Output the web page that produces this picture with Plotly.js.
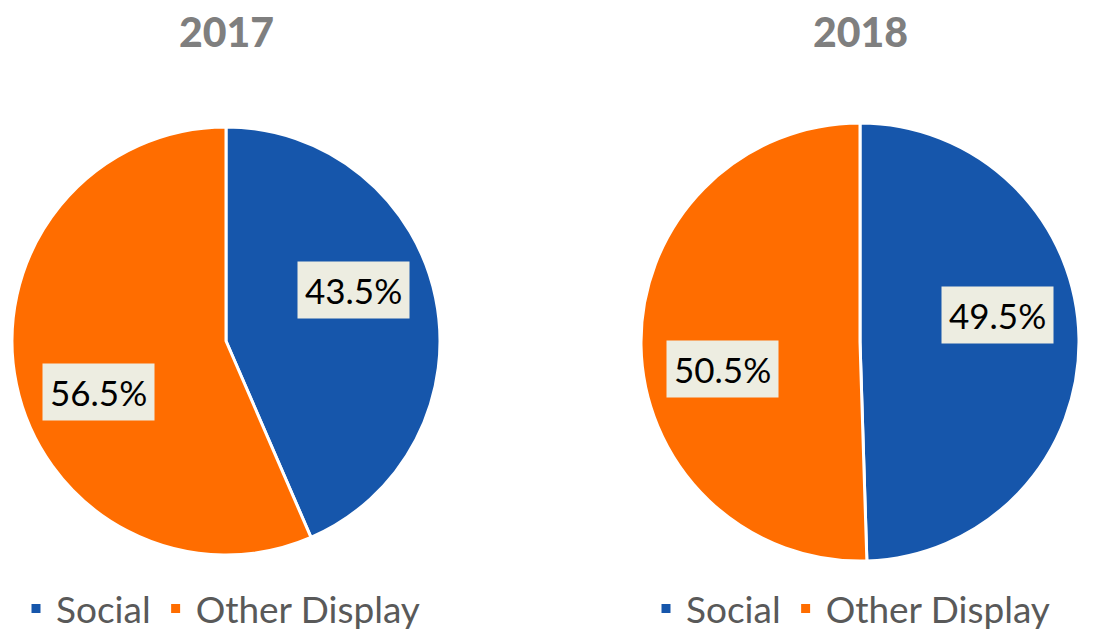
<!DOCTYPE html>
<html>
<head>
<meta charset="utf-8">
<script src="https://cdn.plot.ly/plotly-3.0.1.min.js"></script>
<style>
  html, body { margin: 0; padding: 0; background: #fff; }
  #chart { width: 1097px; height: 632px; }
</style>
</head>
<body>
<div id="chart"></div>
<script>
var labels = ['Social', 'Other Display'];
var years = ['2017', '2018'];
var values2017 = [43.5, 56.5];
var values2018 = [49.5, 50.5];
var colors = ['#1656AB', '#FF6D00'];

var W = 1097, H = 632;
// pie boxes in pixels: [left, right, top, bottom]
var boxes = [[12, 440, 127, 555], [641, 1079, 123, 561]];

function domainOf(b) {
	return {
		x: [b[0] / W, b[1] / W],
		y: [(H - b[3]) / H, (H - b[2]) / H]
	};
}

var data = [];
var annotations = [];
var allValues = [values2017, values2018];

allValues.forEach(function (vals, i) {
	var b = boxes[i];
	data.push({
		type: 'pie',
		labels: labels,
		values: vals,
		sort: false,
		direction: 'clockwise',
		rotation: 0,
		textinfo: 'none',
		hoverinfo: 'label+percent',
		marker: { colors: colors, line: { color: '#ffffff', width: 3 } },
		domain: domainOf(b),
		legend: i === 0 ? 'legend' : 'legend2',
		legendgroup: 'year' + i
	});

	// year title
	annotations.push({
		xref: 'paper', yref: 'paper',
		x: (b[0] + b[1]) / 2 / W, y: 1 - 31 / H,
		xanchor: 'center', yanchor: 'middle',
		text: '<b>' + years[i] + '</b>',
		showarrow: false,
		font: { family: 'Lato Black, Lato, sans-serif', size: 41, color: '#7F7F7F', weight: 900 }
	});

	// data labels, placed from slice mid-angles
	var total = vals.reduce(function (a, c) { return a + c; }, 0);
	var cx = (b[0] + b[1]) / 2, cy = (b[2] + b[3]) / 2, r = (b[1] - b[0]) / 2;
	var acc = 0;
	vals.forEach(function (v) {
		var mid = (acc + v / 2) / total * 2 * Math.PI;
		acc += v;
		var ang = mid - 10 * Math.PI / 180;
		var px = cx + 0.64 * r * Math.sin(ang);
		var py = cy - 0.64 * r * Math.cos(ang);
		annotations.push({
			xref: 'paper', yref: 'paper',
			x: px / W, y: 1 - py / H,
			xanchor: 'center', yanchor: 'middle',
			text: v.toFixed(1) + '%',
			showarrow: false,
			bgcolor: '#EDEDE1',
			borderpad: 7,
			font: { family: 'Lato, sans-serif', size: 35, color: '#000000' }
		});
	});
});

var legendStyle = {
	orientation: 'h',
	traceorder: 'normal',
	yanchor: 'middle',
	xanchor: 'left',
	y: 1 - 609 / H,
	font: { family: 'Lato, sans-serif', size: 37, color: '#595959' },
	bgcolor: 'rgba(0,0,0,0)',
	itemwidth: 30
};

var layout = {
	width: W,
	height: H,
	margin: { l: 0, r: 0, t: 0, b: 0, autoexpand: false },
	paper_bgcolor: '#ffffff',
	showlegend: true,
	legend: Object.assign({}, legendStyle, { x: 16 / W }),
	legend2: Object.assign({}, legendStyle, { x: 646 / W }),
	annotations: annotations
};

Plotly.newPlot('chart', data, layout, { displayModeBar: false, staticPlot: true });
</script>
</body>
</html>
